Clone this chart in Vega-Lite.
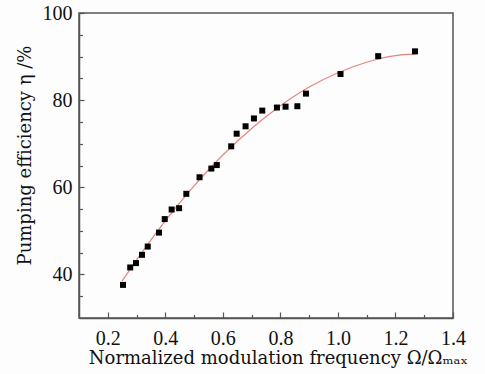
{
  "$schema": "https://vega.github.io/schema/vega-lite/v6.json",
  "autosize": "none",
  "width": 374,
  "height": 305,
  "padding": {"left": 79, "top": 13, "right": 32, "bottom": 56},
  "background": "#fdfdfd",
  "config": {
    "view": {"stroke": "#555555", "strokeWidth": 1.5},
    "font": "Liberation Serif",
    "axis": {
      "labelFont": "Liberation Serif",
      "labelFontSize": 20,
      "titleFontWeight": "normal",
      "labelColor": "#111111",
      "titleColor": "#111111",
      "domainColor": "#555555",
      "domainWidth": 1.5,
      "tickColor": "#555555",
      "tickWidth": 1.2,
      "grid": false
    }
  },
  "datasets": {
    "points": [
      {"f": 0.253, "eta": 37.6},
      {"f": 0.278, "eta": 41.6},
      {"f": 0.298, "eta": 42.6},
      {"f": 0.319, "eta": 44.5},
      {"f": 0.339, "eta": 46.4},
      {"f": 0.378, "eta": 49.6},
      {"f": 0.398, "eta": 52.7},
      {"f": 0.422, "eta": 54.9},
      {"f": 0.448, "eta": 55.2},
      {"f": 0.473, "eta": 58.5},
      {"f": 0.519, "eta": 62.3},
      {"f": 0.560, "eta": 64.3},
      {"f": 0.579, "eta": 65.1},
      {"f": 0.629, "eta": 69.4},
      {"f": 0.648, "eta": 72.3},
      {"f": 0.679, "eta": 74.0},
      {"f": 0.708, "eta": 75.8},
      {"f": 0.737, "eta": 77.6},
      {"f": 0.788, "eta": 78.3},
      {"f": 0.818, "eta": 78.5},
      {"f": 0.859, "eta": 78.6},
      {"f": 0.889, "eta": 81.5},
      {"f": 1.009, "eta": 86.0},
      {"f": 1.140, "eta": 90.1},
      {"f": 1.268, "eta": 91.2}
    ],
    "curve": [
      {"f": 0.25, "eta": 38.5},
      {"f": 0.30, "eta": 43.3},
      {"f": 0.40, "eta": 52.3},
      {"f": 0.50, "eta": 60.3},
      {"f": 0.60, "eta": 67.4},
      {"f": 0.70, "eta": 73.5},
      {"f": 0.80, "eta": 78.7},
      {"f": 0.90, "eta": 83.0},
      {"f": 1.00, "eta": 86.3},
      {"f": 1.10, "eta": 88.7},
      {"f": 1.20, "eta": 90.2},
      {"f": 1.27, "eta": 90.6}
    ]
  },
  "encoding": {
    "x": {
      "field": "f",
      "type": "quantitative",
      "scale": {"domain": [0.1, 1.4], "nice": false, "zero": false},
      "axis": {
        "title": "Normalized modulation frequency Ω/Ωₘₐₓ",
        "titleFont": "DejaVu Serif",
        "titleFontSize": 18,
        "titleX": 199,
        "values": [0.2, 0.3, 0.4, 0.5, 0.6, 0.7, 0.8, 0.9, 1.0, 1.1, 1.2, 1.3, 1.4],
        "labelExpr": "round(datum.value*10) % 2 == 0 ? format(datum.value, '.1f') : ''",
        "tickSize": {"condition": {"test": "round(datum.value*10) % 2 == 0", "value": -6}, "value": -3.5},
        "labelPadding": 16,
        "titlePadding": 1,
        "labelFlush": false
      }
    },
    "y": {
      "field": "eta",
      "type": "quantitative",
      "scale": {"domain": [30, 100], "nice": false, "zero": false},
      "axis": {
        "title": "Pumping efficiency η /%",
        "titleFont": "DejaVu Serif",
        "titleFontSize": 18,
        "titleY": 142,
        "values": [35, 40, 45, 50, 55, 60, 65, 70, 75, 80, 85, 90, 95, 100],
        "labelExpr": "datum.value % 20 == 0 ? format(datum.value, 'd') : ''",
        "tickSize": {"condition": {"test": "datum.value % 20 == 0", "value": -5}, "value": -3.5},
        "labelPadding": 12,
        "titlePadding": 8,
        "labelFlush": false
      }
    }
  },
  "layer": [
    {
      "data": {"name": "curve"},
      "mark": {"type": "line", "color": "#e8837d", "strokeWidth": 1.2, "interpolate": "monotone"}
    },
    {
      "data": {"name": "points"},
      "mark": {"type": "point", "shape": "square", "filled": true, "color": "#000000", "size": 36, "opacity": 1}
    }
  ]
}
